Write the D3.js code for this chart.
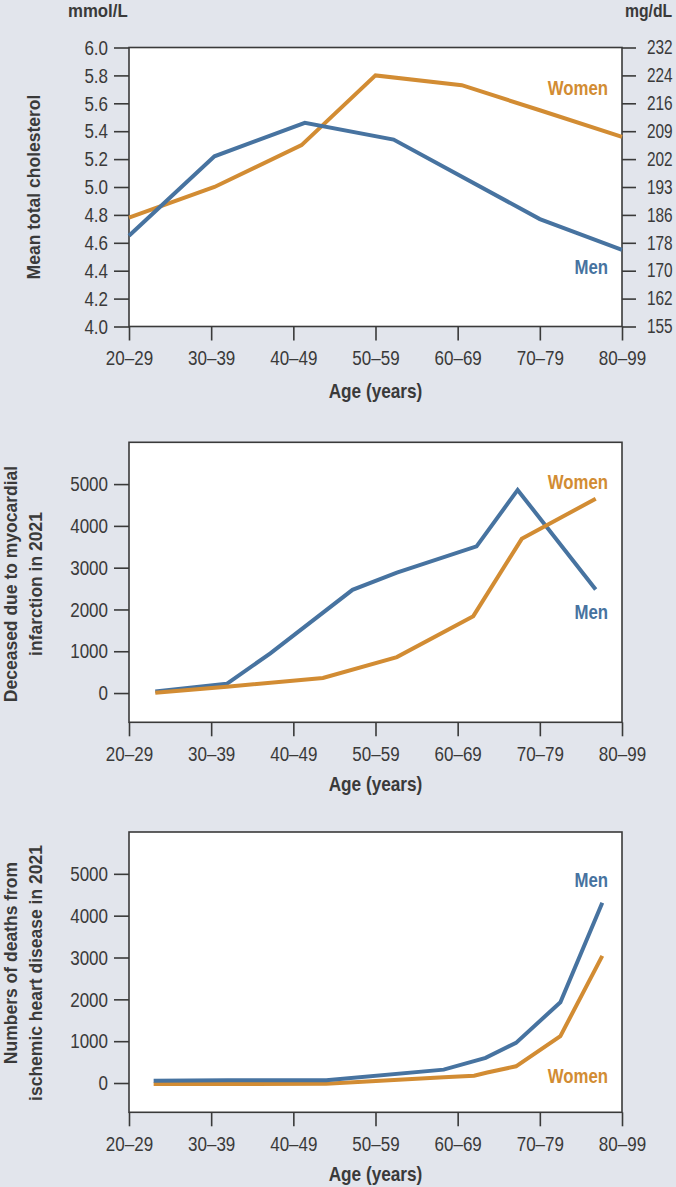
<!DOCTYPE html>
<html>
<head>
<meta charset="utf-8">
<script src="https://cdn.jsdelivr.net/npm/d3@7"></script>
<style>
  html, body { margin: 0; padding: 0; background: #e2e5ec; }
  svg { display: block; }
  text { font-family: 'Liberation Sans', Arial, sans-serif; }
  .ytitle { font-weight: bold; font-size: 17.5px; fill: #3a3a3a; }
</style>
</head>
<body>
<svg id="chart" width="676" height="1187"></svg>
<script>
// ---------- DATA ----------
const ageTicks = [20, 30, 40, 50, 60, 70, 80];
const ageLabels = ["20–29", "30–39", "40–49", "50–59", "60–69", "70–79", "80–99"];

// Chart 1: mean total cholesterol (mmol/L, right axis mg/dL)
const cholTicks = [4.0, 4.2, 4.4, 4.6, 4.8, 5.0, 5.2, 5.4, 5.6, 5.8, 6.0];
const cholMgLabels = ["155", "162", "170", "178", "186", "193", "202", "209", "216", "224", "232"];
const cholMenAge = [20, 30.4, 41.4, 52.2, 70, 80];
const cholMenVal = [4.65, 5.22, 5.46, 5.34, 4.77, 4.55];
const cholWomenAge = [20, 30.4, 41.0, 50, 60.5, 70, 80];
const cholWomenVal = [4.78, 5.00, 5.30, 5.80, 5.73, 5.55, 5.36];

// Chart 2: deceased due to myocardial infarction in 2021
const countTicks = [0, 1000, 2000, 3000, 4000, 5000];
const miMenAge = [23.2, 31.9, 37.2, 47.2, 52.6, 62.3, 67.3, 76.8];
const miMenVal = [40, 220, 950, 2470, 2880, 3510, 4860, 2480];
const miWomenAge = [23.2, 31.9, 43.6, 52.6, 61.9, 67.8, 76.8];
const miWomenVal = [5, 150, 360, 860, 1840, 3690, 4650];

// Chart 3: deaths from ischemic heart disease in 2021
const ihdMenAge = [23, 32, 44, 58.3, 63.4, 67.1, 72.5, 77.6];
const ihdMenVal = [55, 65, 65, 320, 600, 960, 1930, 4310];
const ihdWomenAge = [23, 44, 58.3, 62, 63.6, 67.1, 72.5, 77.6];
const ihdWomenVal = [-25, -20, 140, 175, 250, 400, 1120, 3040];

// ---------- STYLE ----------
const MEN = "#4773a0";
const WOMEN = "#d28c33";
const INK = "#3a3a3a";

const svg = d3.select("#chart");
const x = d3.scaleLinear().domain([20, 80]).range([129, 622]);

// horizontally condense text (the reference uses a condensed face)
function condense(sel, factor) {
  sel.each(function () {
    const t = d3.select(this);
    const x0 = +t.attr("x") || 0;
    t.attr("x", x0 / factor).attr("transform", `scale(${factor},1)`);
  });
}

function panel(opts) {
  const y = d3.scaleLinear().domain(opts.yDomain).range([opts.bottom, opts.top]);
  const g = svg.append("g");

  g.append("rect")
    .attr("x", x(20)).attr("y", opts.top)
    .attr("width", x(80) - x(20)).attr("height", opts.bottom - opts.top)
    .attr("fill", "#fff").attr("stroke", INK).attr("stroke-width", 1.6);

  const styleAxis = (size, factor) => sel => {
    sel.select(".domain").remove();
    sel.selectAll(".tick line").attr("stroke", INK).attr("stroke-width", 1.6);
    sel.selectAll(".tick text").attr("fill", INK)
      .style("font-family", "'Liberation Sans', Arial, sans-serif")
      .style("font-size", size + "px")
      .call(condense, factor);
  };

  g.append("g").attr("transform", `translate(${x(20)},0)`)
    .call(d3.axisLeft(y).tickValues(opts.yTicks).tickSize(15).tickPadding(6)
      .tickFormat(opts.yFormat))
    .call(styleAxis(21, 0.81));

  if (opts.rightLabels) {
    g.append("g").attr("transform", `translate(${x(80)},0)`)
      .call(d3.axisRight(y).tickValues(opts.yTicks).tickSize(14).tickPadding(11)
        .tickFormat((d, i) => opts.rightLabels[i]))
      .call(styleAxis(19.5, 0.79));
  }

  g.append("g").attr("transform", `translate(0,${opts.bottom})`)
    .call(d3.axisBottom(x).tickValues(ageTicks).tickSize(14).tickPadding(10)
      .tickFormat((d, i) => ageLabels[i]))
    .call(styleAxis(21, 0.81));

  const line = d3.line().x(d => x(d[0])).y(d => y(d[1]));
  const series = [
    { ages: opts.womenAge, vals: opts.womenVal, color: WOMEN },
    { ages: opts.menAge, vals: opts.menVal, color: MEN }
  ];
  if (opts.womenOnTop) series.reverse();
  series.forEach(s => {
    g.append("path")
      .datum(s.ages.map((a, i) => [a, s.vals[i]]))
      .attr("d", line)
      .attr("fill", "none").attr("stroke", s.color)
      .attr("stroke-width", 4).attr("stroke-linejoin", "miter");
  });

  opts.labels.forEach(l => {
    g.append("text")
      .attr("x", 608).attr("y", l.y)
      .attr("text-anchor", "end")
      .attr("fill", l.color).style("font-weight", "bold").style("font-size", "20px")
      .text(l.text)
      .call(condense, 0.84);
  });

  g.append("text")
    .attr("x", (x(20) + x(80)) / 2).attr("y", opts.xTitleY)
    .attr("text-anchor", "middle").attr("fill", INK)
    .style("font-weight", "bold").style("font-size", "21px")
    .text("Age (years)")
    .call(condense, 0.82);

  opts.yTitle.forEach((line, i) => {
    g.append("text").attr("class", "ytitle")
      .attr("transform", `translate(${opts.yTitleX[i]},${opts.yTitleCY[i]}) rotate(-90)`)
      .attr("text-anchor", "middle")
      .text(line);
  });
  return y;
}

panel({
  top: 47.5, bottom: 326.5, yDomain: [4, 6], yTicks: cholTicks,
  yFormat: d3.format(".1f"), rightLabels: cholMgLabels,
  menAge: cholMenAge, menVal: cholMenVal,
  womenAge: cholWomenAge, womenVal: cholWomenVal,
  labels: [{ text: "Women", y: 95, color: WOMEN }, { text: "Men", y: 274, color: MEN }],
  xTitleY: 398, yTitle: ["Mean total cholesterol"], yTitleX: [40], yTitleCY: [187]
});

panel({
  top: 442.3, bottom: 722.3, yDomain: [-700, 6000], yTicks: countTicks,
  yFormat: d3.format("d"),
  menAge: miMenAge, menVal: miMenVal,
  womenAge: miWomenAge, womenVal: miWomenVal, womenOnTop: true,
  labels: [{ text: "Women", y: 489, color: WOMEN }, { text: "Men", y: 619, color: MEN }],
  xTitleY: 791, yTitle: ["Deceased due to myocardial", "infarction in 2021"],
  yTitleX: [16.5, 41.5], yTitleCY: [584, 584]
});

panel({
  top: 832, bottom: 1112.3, yDomain: [-700, 6000], yTicks: countTicks,
  yFormat: d3.format("d"),
  menAge: ihdMenAge, menVal: ihdMenVal,
  womenAge: ihdWomenAge, womenVal: ihdWomenVal,
  labels: [{ text: "Men", y: 887, color: MEN }, { text: "Women", y: 1083, color: WOMEN }],
  xTitleY: 1181, yTitle: ["Numbers of deaths from", "ischemic heart disease in 2021"],
  yTitleX: [16.5, 42], yTitleCY: [963, 973]
});

// unit labels
svg.append("text").attr("x", 68).attr("y", 17)
  .attr("fill", INK).style("font-weight", "bold").style("font-size", "17.5px")
  .text("mmol/L").call(condense, 0.96);
svg.append("text").attr("x", 625).attr("y", 17)
  .attr("fill", INK).style("font-weight", "bold").style("font-size", "17.5px")
  .text("mg/dL").call(condense, 0.9);
</script>
</body>
</html>
